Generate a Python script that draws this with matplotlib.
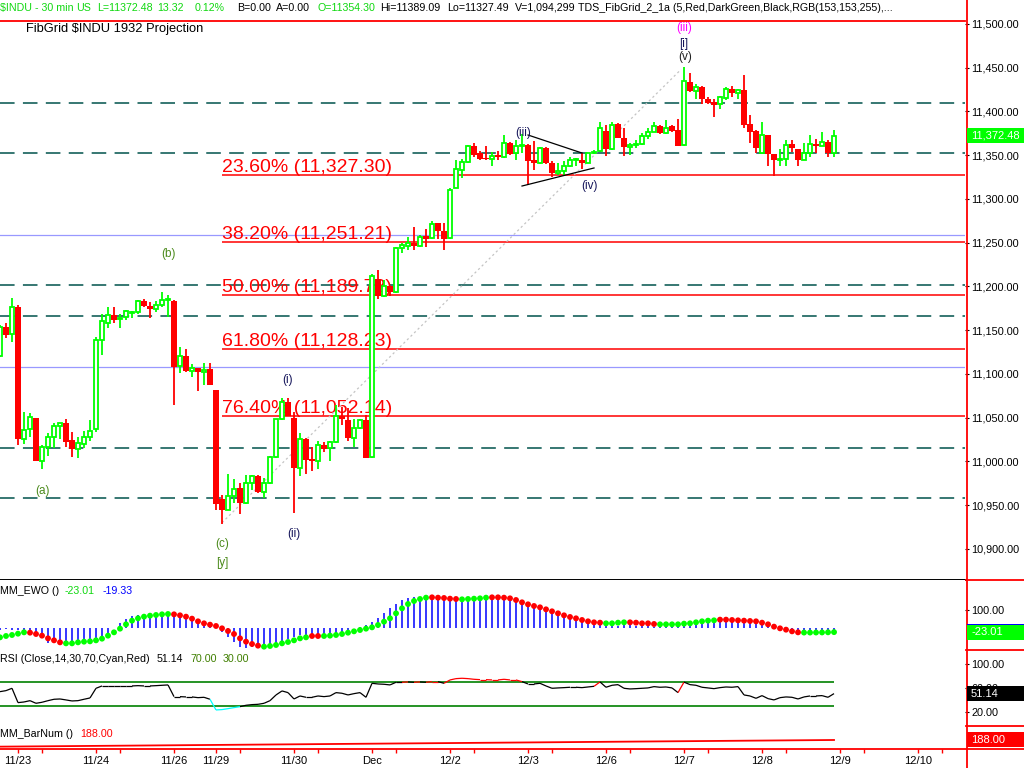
import numpy as np
import matplotlib
matplotlib.use("Agg")
import matplotlib.pyplot as plt
from matplotlib.collections import LineCollection
from matplotlib.lines import Line2D
from matplotlib.patches import Rectangle
from matplotlib.ticker import FuncFormatter

plt.rcParams['font.family'] = ['Liberation Sans', 'DejaVu Sans']
plt.rcParams['lines.scale_dashes'] = False

W, H = 1024, 768
GREEN = '#00ff00'
RED = '#ff0000'
TEAL = '#14605a'
LAVENDER = '#9999ff'
HDR_GREEN = '#10d810'

# ----------------------------------------------------------------------
# 30 min bars, bar 0 = first bar of 11/23 (three bars of 11/22 before it)
# ----------------------------------------------------------------------
FIRST_BAR = -3
opens = [
    11120, 11154, 11146, 11176, 11026, 11037, 11050, 11000, 11016, 11028,
    11041, 11044, 11024, 11014, 11020, 11028, 11037, 11139, 11158, 11167,
    11163, 11165, 11170, 11171, 11183, 11178, 11174, 11179, 11184, 11183,
    11109, 11121, 11103, 11107, 11102, 11106, 11082, 10957, 10945, 10961,
    10970, 10952, 10975, 10983, 10965, 10975, 11005, 11048, 11068, 11050,
    10993, 11026, 11003, 11000, 11019, 11015, 11022, 11052, 11047, 11027,
    11038, 11047, 11005, 11208, 11189, 11200, 11194, 11244, 11246, 11250,
    11246, 11258, 11255, 11272, 11263, 11255, 11313, 11333, 11342, 11361,
    11352, 11347, 11346, 11350, 11348, 11364, 11352, 11360, 11362, 11344,
    11341, 11358, 11341, 11330, 11332, 11338, 11344, 11345, 11341, 11352,
    11355, 11378, 11357, 11386, 11370, 11359, 11362, 11363, 11372, 11377,
    11383, 11375, 11383, 11379, 11362, 11434, 11423, 11428, 11414, 11411,
    11408, 11415, 11426, 11421, 11425, 11386, 11378, 11353, 11373, 11351,
    11345, 11346, 11363, 11357, 11345, 11352, 11363, 11361, 11365, 11352,
]
highs = [
    11156, 11158, 11187, 11179, 11057, 11055, 11050, 11019, 11032, 11044,
    11044, 11049, 11034, 11028, 11035, 11047, 11142, 11168, 11176, 11176,
    11168, 11173, 11172, 11185, 11186, 11182, 11183, 11194, 11190, 11184,
    11131, 11128, 11111, 11107, 11112, 11112, 11082, 10962, 10986, 10980,
    10975, 10984, 10985, 10984, 10981, 11006, 11049, 11073, 11072, 11056,
    11032, 11027, 11017, 11023, 11022, 11023, 11064, 11062, 11061, 11048,
    11049, 11053, 11214, 11219, 11207, 11201, 11245, 11250, 11257, 11268,
    11259, 11266, 11275, 11272, 11272, 11313, 11344, 11346, 11362, 11364,
    11355, 11360, 11354, 11355, 11373, 11365, 11367, 11374, 11363, 11366,
    11359, 11359, 11343, 11341, 11343, 11348, 11347, 11353, 11353, 11356,
    11388, 11384, 11388, 11387, 11381, 11364, 11367, 11375, 11381, 11388,
    11384, 11390, 11384, 11391, 11451, 11444, 11431, 11429, 11416, 11414,
    11418, 11428, 11429, 11426, 11442, 11396, 11379, 11388, 11373, 11351,
    11357, 11367, 11367, 11357, 11364, 11373, 11368, 11377, 11367, 11379,
]
lows = [
    11119, 11141, 11137, 11019, 11020, 11028, 11001, 10991, 11006, 11015,
    11026, 11017, 11005, 11004, 11015, 11023, 11034, 11122, 11152, 11158,
    11152, 11162, 11164, 11169, 11176, 11164, 11171, 11176, 11165, 11064,
    11101, 11102, 11097, 11080, 11087, 11087, 10944, 10928, 10944, 10952,
    10940, 10951, 10967, 10964, 10958, 10974, 11004, 11047, 11052, 10941,
    10983, 10986, 10989, 10991, 11011, 11000, 11021, 11042, 11023, 11016,
    11037, 11004, 11004, 11186, 11188, 11189, 11193, 11238, 11242, 11242,
    11245, 11245, 11254, 11254, 11242, 11254, 11312, 11324, 11341, 11348,
    11345, 11345, 11338, 11345, 11347, 11350, 11345, 11352, 11316, 11333,
    11340, 11340, 11325, 11327, 11327, 11337, 11338, 11334, 11341, 11351,
    11354, 11349, 11356, 11370, 11349, 11350, 11358, 11362, 11368, 11376,
    11374, 11374, 11377, 11361, 11361, 11422, 11414, 11408, 11408, 11394,
    11403, 11413, 11417, 11414, 11381, 11364, 11352, 11351, 11338, 11326,
    11338, 11338, 11354, 11338, 11344, 11348, 11352, 11360, 11348, 11348,
]
closes = [
    11154, 11145, 11177, 11026, 11036, 11051, 11001, 11016, 11028, 11041,
    11044, 11022, 11014, 11021, 11028, 11035, 11139, 11160, 11167, 11162,
    11164, 11172, 11171, 11183, 11178, 11174, 11179, 11185, 11186, 11108,
    11121, 11103, 11107, 11102, 11105, 11087, 10951, 10945, 10960, 10969,
    10952, 10975, 10983, 10965, 10975, 11005, 11048, 11068, 11052, 10993,
    11026, 11002, 11000, 11019, 11014, 11022, 11052, 11049, 11027, 11038,
    11047, 11004, 11212, 11189, 11201, 11194, 11244, 11247, 11250, 11246,
    11256, 11254, 11271, 11263, 11254, 11310, 11334, 11342, 11361, 11350,
    11346, 11346, 11349, 11348, 11364, 11351, 11361, 11362, 11343, 11341,
    11358, 11341, 11330, 11332, 11338, 11345, 11346, 11341, 11352, 11354,
    11381, 11357, 11385, 11370, 11359, 11362, 11363, 11372, 11377, 11383,
    11375, 11381, 11378, 11361, 11435, 11423, 11428, 11414, 11410, 11407,
    11416, 11426, 11421, 11425, 11384, 11377, 11358, 11373, 11351, 11344,
    11346, 11362, 11358, 11344, 11352, 11363, 11361, 11365, 11352, 11372.48,
]

# MM_EWO: blue histogram and the dotted signal line (g = rising, r = falling)
ewo_hist = [
    -11.2, -7.5, -11.2, -11.2, -11.2, -11.2, -29.8, -57.8, -85.7, -85.7,
    -82.0, -82.0, -80.1, -76.4, -76.4, -72.7, -67.1, -48.4, -29.8, 1.9,
    26.1, 48.4, 67.1, 72.7, 76.4, 82.0, 82.0, 82.0, 82.0, 78.2,
    67.1, 54.0, 44.7, 26.1, 11.2, 3.7, -1.9, -20.5, -48.4, -76.4,
    -104.3, -113.6, -108.1, -100.6, -95.0, -89.4, -82.0, -72.7, -63.3, -48.4,
    -39.1, -39.1, -44.7, -39.1, -35.4, -29.8, -29.8, -20.5, -11.2, -1.9,
    7.5, 16.8, 35.4, 54.0, 82.0, 109.9, 134.1, 156.5, 165.8, 171.4,
    175.1, 175.1, 175.1, 171.4, 171.4, 165.8, 160.2, 163.9, 165.8, 171.4,
    175.1, 175.1, 175.1, 171.4, 165.8, 156.5, 147.2, 137.9, 124.8, 115.5,
    104.3, 91.3, 82.0, 72.7, 63.3, 54.0, 44.7, 35.4, 26.1, 20.5,
    16.8, 13.0, 13.0, 13.0, 16.8, 16.8, 13.0, 11.2, 11.2, 7.5,
    7.5, 7.5, 7.5, 11.2, 13.0, 16.8, 26.1, 31.7, 37.3, 41.0,
    44.7, 44.7, 41.0, 35.4, 31.7, 26.1, 22.4, 16.8, 7.5, -1.9,
    -7.5, -11.2, -14.9, -16.8, -16.8, -16.8, -18.6, -18.6, -18.6, -19.33,
]
ewo_dots = [
    -52.2, -44.7, -39.1, -31.7, -24.2, -26.1, -33.5, -42.8, -57.8, -68.9,
    -80.1, -85.7, -85.7, -80.1, -76.4, -74.5, -68.9, -59.6, -42.8, -24.2,
    -3.7, 20.5, 41.0, 54.0, 63.3, 68.9, 72.7, 76.4, 78.2, 76.4,
    70.8, 63.3, 52.2, 37.3, 26.1, 18.6, 11.2, -1.9, -16.8, -33.5,
    -57.8, -76.4, -89.4, -98.7, -104.3, -100.6, -95.0, -85.7, -78.2, -68.9,
    -57.8, -52.2, -44.7, -44.7, -44.7, -42.8, -39.1, -33.5, -26.1, -18.6,
    -11.2, -3.7, 3.7, 16.8, 35.4, 54.0, 82.0, 109.9, 134.1, 150.9,
    162.1, 169.5, 171.4, 169.5, 167.7, 163.9, 162.1, 160.2, 162.1, 163.9,
    165.8, 169.5, 171.4, 171.4, 169.5, 165.8, 156.5, 143.5, 132.3, 123.0,
    115.5, 104.3, 93.2, 82.0, 70.8, 61.5, 54.0, 44.7, 37.3, 31.7,
    29.8, 26.1, 26.1, 29.8, 31.7, 31.7, 29.8, 26.1, 26.1, 22.4,
    20.5, 20.5, 20.5, 20.5, 24.2, 26.1, 31.7, 37.3, 41.0, 42.8,
    46.6, 46.6, 44.7, 42.8, 41.0, 39.1, 37.3, 29.8, 20.5, 7.5,
    -1.9, -9.3, -18.6, -24.2, -25.5, -25.5, -25.2, -24.8, -24.0, -23.01,
]
ewo_dot_dir = ("ggggg" + "rrrrrr" + "g" * 18 + "r" * 15 + "g" * 8 + "rr" + "g" * 18
               + "r" * 5 + "g" * 5 + "r" * 19 + "g" * 4 + "r" * 5 + "g" * 10
               + "r" * 14 + "g" * 6)

rsi = [
    54.4, 56.1, 60.0, 36.1, 37.2, 39.4, 35.0, 36.7, 39.4, 41.7,
    42.2, 40.6, 38.9, 39.4, 41.7, 43.9, 60.0, 63.9, 63.9, 63.9,
    63.9, 63.9, 63.9, 64.4, 63.9, 63.9, 64.4, 65.0, 65.6, 46.1,
    46.1, 45.6, 45.6, 44.4, 45.0, 41.7, 23.9, 24.5, 26.1, 27.8,
    29.4, 31.7, 32.8, 33.3, 35.0, 39.4, 48.9, 55.6, 52.8, 42.2,
    47.2, 45.0, 45.0, 47.2, 46.1, 47.2, 52.8, 51.7, 48.9, 51.1,
    52.8, 45.0, 68.3, 67.2, 66.7, 65.6, 70.0, 70.0, 70.6, 70.0,
    70.6, 70.0, 71.1, 71.1, 68.3, 73.9, 76.1, 76.7, 76.1, 75.0,
    74.4, 74.4, 73.9, 73.9, 75.0, 73.9, 73.9, 71.1, 67.2, 67.2,
    68.3, 63.9, 60.0, 60.6, 61.1, 61.7, 61.7, 61.1, 62.2, 63.3,
    70.6, 61.7, 65.0, 66.1, 60.0, 58.9, 59.4, 60.0, 60.6, 62.8,
    61.7, 62.2, 60.6, 52.8, 70.3, 66.1, 65.0, 61.7, 60.6, 59.4,
    61.1, 62.2, 61.7, 62.8, 48.9, 47.2, 43.3, 47.8, 42.8, 40.6,
    44.4, 45.6, 45.0, 42.2, 45.6, 47.2, 47.2, 47.8, 45.0, 51.14,
]
RSI_OB, RSI_OS = 70, 30
BARNUM_LAST = 188

# fib grid
fib_pcts = ['23.60%', '38.20%', '50.00%', '61.80%', '76.40%']
fib_prices = [11327.30, 11251.21, 11189.72, 11128.23, 11052.14]
fib_anchor_bar = 34
proj_levels = [11409.3, 11352.2, 11201.7, 11165.9, 11015.0, 10957.9]
blue_levels = [11258.8, 11108.0]

# wave counts: text, bar, price, colour
wave_labels = [
    ('(a)', 4, 10966, '#4b8a1b'), ('(b)', 25, 11237, '#4b8a1b'),
    ('(c)', 34, 10906, '#4b8a1b'), ('[y]', 34, 10884, '#4b8a1b'),
    ('(i)', 45, 11093, '#14145a'), ('(ii)', 46, 10917, '#14145a'),
    ('(iii)', 84.2, 11375, '#14145a'), ('(iv)', 95.2, 11315, '#14145a'),
    ('(v)', 111.2, 11462, '#202020'), ('[i]', 111, 11477, '#14145a'),
    ('(iii)', 111, 11495, '#ff00ff'),
]
tri_upper = ([85, 94], [11373.1, 11352.5])
tri_lower = ([84, 96], [11314.8, 11335.4])
swing_line = ([34, 110.5], [10930, 11448])

day_labels = ['11/23', '11/24', '11/26', '11/29', '11/30', 'Dec', '12/2',
              '12/3', '12/6', '12/7', '12/8', '12/9', '12/10']
day_start = [0, 13, 26, 33, 46, 59, 72, 85, 98, 111, 124, 137, 150]
mid_ticks = [4, 17, 37, 50, 63, 76, 89, 102, 115, 128, 141, 154]

# ----------------------------------------------------------------------
fig = plt.figure(figsize=(W / 100, H / 100), dpi=100)


def px_axes(x0, y0, x1, y1):
    return fig.add_axes([x0 / W, 1 - y1 / H, (x1 - x0) / W, (y1 - y0) / H])


def ftext(px, py, s, **kw):
    kw.setdefault('va', 'center')
    kw.setdefault('fontsize', 7.7)
    fig.text(px / W, 1 - py / H, s, **kw)


def fline(xs, ys, **kw):
    fig.add_artist(Line2D([v / W for v in xs], [1 - v / H for v in ys],
                          transform=fig.transFigure, **kw))


ax = px_axes(0, 21, 965, 580)
ax_ewo = px_axes(0, 580, 965, 650)
ax_rsi = px_axes(0, 650, 965, 726)
ax_bar = px_axes(0, 726, 965, 749)

XMIN, XMAX = -3, 157.83
for a in (ax, ax_ewo, ax_rsi, ax_bar):
    a.set_xlim(XMIN, XMAX)
    for s in a.spines.values():
        s.set_visible(False)
    a.tick_params(axis='x', bottom=False, labelbottom=False)
    a.yaxis.tick_right()
    a.tick_params(axis='y', direction='out', length=3, width=0.8,
                  color='black', labelsize=7.8, pad=1.5)

x = np.arange(FIRST_BAR, FIRST_BAR + len(closes))
o, h, l, c = (np.array(v, dtype=float) for v in (opens, highs, lows, closes))

# ---- price pane ----
ax.set_ylim(10864.5, 11503.4)
ax.set_yticks(np.arange(10900, 11501, 50))
ax.yaxis.set_major_formatter(FuncFormatter(lambda v, _: f'{v:,.2f}'))
ax.spines['top'].set_visible(True)
ax.spines['top'].set_color(RED)
ax.spines['top'].set_linewidth(1.3)
ax.spines['bottom'].set_visible(True)
ax.spines['bottom'].set_color('black')
ax.spines['bottom'].set_linewidth(1.4)

for lv in proj_levels:
    ax.axhline(lv, color=TEAL, lw=1.2, dashes=(10.5, 6), zorder=1)
for lv in blue_levels:
    ax.axhline(lv, color=LAVENDER, lw=0.9, zorder=1)
for pct, lv in zip(fib_pcts, fib_prices):
    ax.hlines(lv, fib_anchor_bar, XMAX, color=RED, lw=1.1, zorder=1)
    ax.annotate(f'{pct} ({lv:,.2f})', (fib_anchor_bar, lv), xytext=(0, 2.2),
                textcoords='offset points', ha='left', va='baseline',
                fontsize=14, color=RED, zorder=2)

ax.plot(*swing_line, color='#c4c4c4', lw=0.9, dashes=(1.6, 2.0), zorder=2)
ax.plot(*tri_upper, color='black', lw=0.9, zorder=6)
ax.plot(*tri_lower, color='black', lw=0.9, zorder=6)

up = c >= o
body_lo = np.minimum(o, c)
body_h = np.maximum(np.abs(c - o), 0.5)
ax.vlines(x[up], l[up], h[up], color=GREEN, lw=1.3, zorder=3)
ax.vlines(x[~up], l[~up], h[~up], color=RED, lw=1.3, zorder=3)
ax.bar(x[up], body_h[up], bottom=body_lo[up], width=0.7, facecolor='white',
       edgecolor=GREEN, linewidth=1.3, zorder=4)
ax.bar(x[~up], body_h[~up], bottom=body_lo[~up], width=0.85, color=RED,
       linewidth=0, zorder=4)

for txt, bx, py, col in wave_labels:
    ax.text(bx, py, txt, color=col, fontsize=8.5, ha='center', va='center', zorder=7)

ax.text(26 / 965, 1 - 8 / 559, 'FibGrid $INDU 1932 Projection', transform=ax.transAxes,
        fontsize=9.3, ha='left', va='center', color='black')

# ---- EWO pane ----
ax_ewo.set_ylim(-123, 268.3)
ax_ewo.set_yticks([100])
ax_ewo.yaxis.set_major_formatter(FuncFormatter(lambda v, _: f'{v:.2f}'))
ax_ewo.vlines(x, 0, ewo_hist, color='#0000ff', lw=1.1, zorder=2)
dot_cols = [GREEN if d == 'g' else RED for d in ewo_dot_dir]
ax_ewo.scatter(x, ewo_dots, s=18, c=dot_cols, linewidths=0, zorder=3)

# ---- RSI pane ----
ax_rsi.set_ylim(-2.83, 123.8)
ax_rsi.set_yticks([20, 60, 100])
ax_rsi.yaxis.set_major_formatter(FuncFormatter(lambda v, _: f'{v:.2f}'))
ax_rsi.hlines([RSI_OB, RSI_OS], x[0], x[-1], color='#008000', lw=1.2, zorder=1)
r = np.array(rsi)
pts = np.column_stack([x, r])
segs = np.stack([pts[:-1], pts[1:]], axis=1)
seg_cols = ['red' if v > RSI_OB else ('cyan' if v < RSI_OS else 'black') for v in r[1:]]
ax_rsi.add_collection(LineCollection(segs, colors=seg_cols, linewidths=0.9, zorder=2))

# ---- BarNum pane ----
ax_bar.set_ylim(0, 480)
ax_bar.set_yticks([])
bar_num = np.arange(len(closes)) + BARNUM_LAST - len(closes) + 1
ax_bar.plot(x, bar_num, color=RED, lw=1.3)

ax_bar.set_xticks(day_start)
ax_bar.set_xticklabels(day_labels)
ax_bar.set_xticks(mid_ticks, minor=True)
ax_bar.tick_params(axis='x', which='both', bottom=True, labelbottom=True,
                   direction='out', length=3, width=1, color=RED,
                   labelcolor='black', labelsize=8, pad=2)

# ---- frame lines ----
fline([966.5, 966.5], [0, 768], color=RED, lw=1.3)
fline([0, 1024], [749, 749], color=RED, lw=1.3)
for yy in (580, 650, 726):
    fline([966, 1024], [yy, yy], color=RED, lw=1.3)

# ---- value boxes on the right scale (later boxes cover earlier ones) ----
box_z = [10]


def value_box(a, value, text, fc):
    z = box_z[0]
    box_z[0] += 2
    ypix = a.transData.transform((0, value))[1]
    fig.add_artist(Rectangle((967 / W, (ypix - 7.5) / H), 57 / W, 15 / H,
                             transform=fig.transFigure, facecolor=fc,
                             edgecolor='none', zorder=z))
    fig.text(971 / W, ypix / H, text, color='white', fontsize=8,
             va='center', ha='left', zorder=z + 1)


value_box(ax, closes[-1], f'{closes[-1]:,.2f}', GREEN)
value_box(ax_ewo, ewo_hist[-1], f'{ewo_hist[-1]:.2f}', '#0000ff')
value_box(ax_ewo, ewo_dots[-1], f'{ewo_dots[-1]:.2f}', GREEN)
value_box(ax_rsi, rsi[-1], f'{rsi[-1]:.2f}', 'black')
value_box(ax_bar, BARNUM_LAST, f'{BARNUM_LAST:.2f}', RED)

# ---- header / pane titles ----
for px, s, col in [(0, '$INDU - 30 min', HDR_GREEN), (76, 'US', HDR_GREEN),
                   (97, 'L=11372.48', HDR_GREEN), (157, '13.32', HDR_GREEN),
                   (195, '0.12%', HDR_GREEN), (237, 'B=0.00', 'black'),
                   (276, 'A=0.00', 'black'), (318, 'O=11354.30', HDR_GREEN),
                   (380, 'Hi=11389.09', 'black'), (447, 'Lo=11327.49', 'black'),
                   (515, 'V=1,094,299', 'black'),
                   (578, 'TDS_FibGrid_2_1a (5,Red,DarkGreen,Black,RGB(153,153,255),...', 'black')]:
    ftext(px, 8, s, color=col)

ftext(0, 591, 'MM_EWO ()', color='black')
ftext(65, 591, f'{ewo_dots[-1]:.2f}', color=HDR_GREEN)
ftext(103, 591, f'{ewo_hist[-1]:.2f}', color='#0000ff')
ftext(0, 659, 'RSI (Close,14,30,70,Cyan,Red)', color='black')
ftext(157, 659, f'{rsi[-1]:.2f}', color='black')
ftext(190, 659, f'{RSI_OB:.2f}', color='#3f7f00')
ftext(223, 659, f'{RSI_OS:.2f}', color='#3f7f00')
ftext(0, 734, 'MM_BarNum ()', color='black')
ftext(80, 734, f'{BARNUM_LAST:.2f}', color=RED)

fig.savefig('out.png', dpi=100)
